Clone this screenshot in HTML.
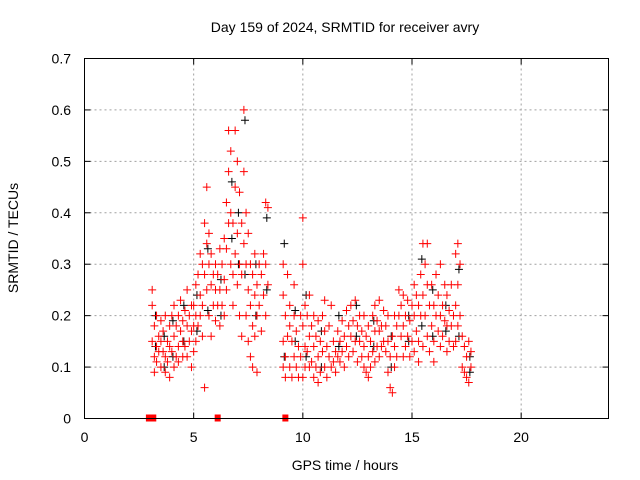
<!DOCTYPE html>
<html><head><meta charset="utf-8"><style>
body{margin:0;background:#fff}
svg{display:block;font-family:"Liberation Sans",sans-serif}
</style></head><body>
<svg id="chart" width="640" height="480" viewBox="0 0 640 480">
<text x="345" y="32" font-size="14" text-anchor="middle">Day 159 of 2024, SRMTID for receiver avry</text>
<text x="345" y="470" font-size="14" text-anchor="middle">GPS time / hours</text>
<text transform="translate(18,238) rotate(-90)" font-size="14" text-anchor="middle">SRMTID / TECUs</text>
<g id="grid"></g>
<g id="ticks"></g>
<g id="black"></g>
<g id="red"></g>
<rect x="84.5" y="58.5" width="524" height="360" fill="none" stroke="#000"/>
</svg>
<script>
const xTicks=[0,5,10,15,20];
const yTicks=[0,0.1,0.2,0.3,0.4,0.5,0.6,0.7];
const yTickLabels=["0","0.1","0.2","0.3","0.4","0.5","0.6","0.7"];
const redHours=[3.1,3.2,3.3,3.4,3.5,3.6,3.7,3.8,3.9,4.0,4.1,4.2,4.3,4.4,4.5,4.6,4.7,4.8,4.9,5.0,5.1,5.2,5.3,5.4,5.5,5.6,5.7,5.8,5.9,6.0,6.1,6.2,6.3,6.4,6.5,6.6,6.7,6.8,6.9,7.0,7.1,7.2,7.3,7.4,7.5,7.6,7.7,7.8,7.9,8.0,8.1,8.2,8.3,8.4,
9.1,9.2,9.3,9.4,9.5,9.6,9.7,9.8,9.9,10.0,10.1,10.2,10.3,10.4,10.5,10.6,10.7,10.8,10.9,11.0,11.1,11.2,11.3,11.4,11.5,11.6,11.7,11.8,11.9,12.0,12.1,12.2,12.3,12.4,12.5,12.6,12.7,12.8,12.9,13.0,13.1,13.2,13.3,13.4,13.5,13.6,13.7,13.8,13.9,14.0,14.1,14.2,14.3,14.4,14.5,14.6,14.7,14.8,14.9,15.0,15.1,15.2,15.3,15.4,15.5,15.6,15.7,15.8,15.9,16.0,16.1,16.2,16.3,16.4,16.5,16.6,16.7,16.8,16.9,17.0,17.1,17.2,17.3,17.4,17.5,17.6,17.7];
const redValues=[[0.25,0.15,0.22],[0.12,0.18,0.09],[0.14,0.2,0.11],[0.16,0.13],[0.1,0.19,0.15],[0.13,0.17],[0.12,0.2,0.09],[0.15,0.11],[0.18,0.14,0.08],[0.13,0.2],[0.16,0.1,0.22],[0.12,0.18],[0.2,0.14,0.11],[0.17,0.23],[0.15,0.12,0.19],[0.21,0.14],[0.18,0.25,0.12],[0.2,0.15],[0.1,0.17,0.22],
[0.22,0.13,0.18],[0.2,0.26,0.15],[0.28,0.18],[0.24,0.32,0.2],[0.3,0.22,0.16],[0.38,0.28,0.06],[0.45,0.34,0.25],[0.36,0.3,0.2],[0.32,0.26,0.16],[0.28,0.22],[0.25,0.19,0.3],[0.22,0.28],[0.25,0.18,0.33],[0.3,0.22],[0.35,0.27,0.2],[0.42,0.33,0.25],[0.48,0.38,0.56],[0.52,0.4,0.3],[0.38,0.28,0.22],[0.56,0.45,0.32],[0.5,0.36,0.26],[0.44,0.3,0.2],[0.38,0.28,0.16],[0.6,0.48,0.34],[0.4,0.3,0.2],[0.36,0.25,0.15],[0.3,0.22,0.12],[0.28,0.18,0.1],[0.32,0.24,0.16],[0.26,0.2,0.09],[0.3,0.22],[0.28,0.17],[0.32,0.24],[0.42,0.3,0.2],[0.41,0.26],
[0.3,0.15,0.1,0.24],[0.2,0.12,0.08],[0.28,0.16],[0.18,0.1,0.22],[0.15,0.08],[0.2,0.12,0.26],[0.1,0.17],[0.14,0.08],[0.2,0.12],[0.39,0.3,0.18,0.08],[0.22,0.14,0.1],[0.2,0.13],[0.24,0.16,0.1],[0.18,0.11],[0.2,0.14,0.08],[0.16,0.1],[0.19,0.12,0.07],[0.15,0.09],[0.2,0.13],[0.17,0.1,0.23],[0.14,0.08],[0.12,0.18],[0.22,0.1],[0.15,0.11],[0.13,0.09],[0.17,0.12],[0.11,0.15],[0.19,0.13],[0.16,0.1],[0.21,0.14],[0.18,0.12],[0.16,0.22],[0.13,0.19],[0.23,0.15],[0.18,0.11],[0.15,0.2],[0.12,0.17],[0.1,0.14,0.2],[0.09,0.16],[0.12,0.18,0.08],[0.15,0.1],[0.2,0.13],[0.17,0.11,0.22],[0.14,0.19],[0.12,0.17,0.23],[0.18,0.14],[0.21,0.15],[0.13,0.18],[0.09,0.15,0.2],[0.06,0.12],[0.05,0.16],[0.14,0.2,0.1],[0.18,0.12],[0.2,0.25],[0.22,0.16],[0.24,0.18,0.12],[0.2,0.14],[0.16,0.23],[0.19,0.12],[0.22,0.15],[0.2,0.13,0.26],[0.17,0.24],[0.15,0.22,0.11],[0.28,0.2],[0.34,0.24,0.14],[0.3,0.2],[0.34,0.26,0.16],[0.22,0.13],[0.18,0.26],[0.15,0.22,0.11],[0.28,0.2],[0.24,0.17],[0.2,0.3,0.14],[0.22,0.16],[0.26,0.19],[0.18,0.24,0.13],[0.21,0.15],[0.26,0.18],[0.2,0.14],[0.32,0.22,0.15],[0.34,0.26,0.18],[0.3,0.2],[0.16,0.1],[0.14,0.09],[0.12,0.08],[0.15,0.07],[0.13,0.1]];
const blackHours=[3.25,3.65,4.05,4.55,5.15,5.65,6.25,6.75,7.05,7.35,7.85,8.35,9.15,9.65,10.15,10.85,11.65,12.45,13.25,14.05,14.85,15.45,15.95,16.55,17.15,17.65];
const blackValues=[[0.2,0.14],[0.16,0.1],[0.19,0.12],[0.22,0.15],[0.24,0.17],[0.33,0.21],[0.2,0.27],[0.35,0.46],[0.3,0.4],[0.58,0.28],[0.3,0.2],[0.39,0.25],[0.34,0.12],[0.15,0.21],[0.24,0.12],[0.17,0.1],[0.14,0.2],[0.16,0.22],[0.14,0.19],[0.1,0.16],[0.2,0.15],[0.31,0.18],[0.25,0.16],[0.22,0.17],[0.29,0.16],[0.12,0.09]];
const zeroHours=[2.95,3.15,6.1,9.2];

const NS="http://www.w3.org/2000/svg";
const X0=84.5,X1=608.5,Y0=418.5,Y1=58.5;
function xs(h){return X0+(h/24)*(X1-X0);}
function ys(v){return Y0-(v/0.7)*(Y0-Y1);}
function mk(tag,a,parent){const e=document.createElementNS(NS,tag);for(const k in a)e.setAttribute(k,a[k]);parent.appendChild(e);return e;}
const grid=document.getElementById('grid'),ticks=document.getElementById('ticks');
xTicks.forEach(t=>{
  const x=xs(t);
  if(t>0){const g=mk('line',{x1:x,x2:x,y1:Y1,y2:Y0,stroke:'#a0a0a0','stroke-dasharray':'2,3'},grid);
  
  }
  const l=mk('line',{x1:x,x2:x,y1:Y0,y2:Y0-6,stroke:'#000'},ticks);
  
  
  mk('line',{x1:x,x2:x,y1:Y1,y2:Y1+6,stroke:'#000'},ticks);
  const tx=mk('text',{x:x,y:442,'font-size':14,'text-anchor':'middle'},ticks);tx.textContent=t;
  
  
});
yTicks.forEach((t,i)=>{
  const y=ys(t);
  if(t>0&&t<0.7){const g=mk('line',{x1:X0,x2:X1,y1:y,y2:y,stroke:'#a0a0a0','stroke-dasharray':'2,3'},grid);
  
  }
  const l=mk('line',{x1:X0,x2:X0+6,y1:y,y2:y,stroke:'#000'},ticks);
  
  
  mk('line',{x1:X1,x2:X1-6,y1:y,y2:y,stroke:'#000'},ticks);
  const tx=mk('text',{x:71,y:y+5,'font-size':14,'text-anchor':'end'},ticks);tx.textContent=yTickLabels[i];
  
  
});
function plus(g,x,y,c){
  const p=mk('path',{d:`M${x-4},${y}H${x+4}M${x},${y-4}V${y+4}`,stroke:c,'stroke-width':1,fill:'none'},g);
  
  
}
const bg=document.getElementById('black'),rg=document.getElementById('red');
blackHours.forEach((h,i)=>blackValues[i].forEach(v=>plus(bg,xs(h),ys(v),'#000')));
redHours.forEach((h,i)=>redValues[i].forEach(v=>plus(rg,xs(h),ys(v),'#ff0000')));
zeroHours.forEach(h=>{
  const r=mk('rect',{x:xs(h)-3,y:Y0-4,width:6,height:7,fill:'#ff0000'},rg);
  
  
});
</script>
</body></html>
